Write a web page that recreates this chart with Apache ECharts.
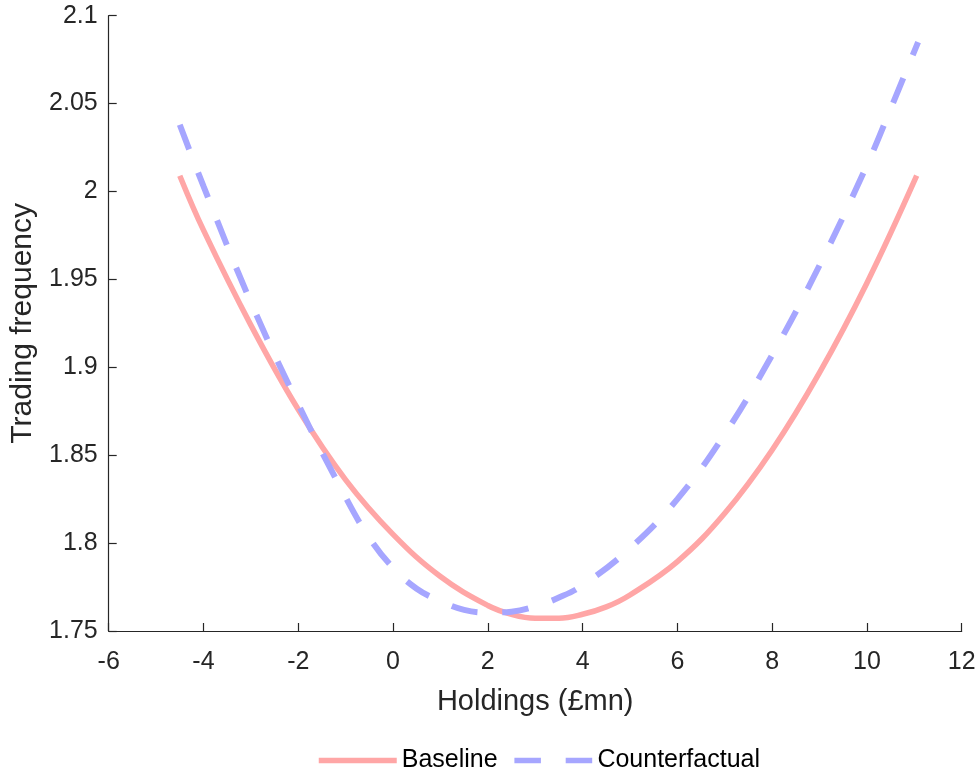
<!DOCTYPE html>
<html>
<head>
<meta charset="utf-8">
<script src="https://cdn.jsdelivr.net/npm/echarts@6/dist/echarts.min.js"></script>
<style>html,body{margin:0;padding:0;background:#fff;}#c{width:979px;height:771px;}</style>
</head>
<body>
<div id="c"></div>
<script>
// Holdings (£mn) -> Trading frequency
const baselineX = [-4.5, -4, -3, -2, -1, 0, 1, 2, 2.5, 3, 3.5, 4, 4.5, 5, 6, 7, 8, 9, 10, 11.05];
const baselineY = [2.009, 1.978, 1.924, 1.876, 1.836, 1.805, 1.781, 1.7645, 1.7595, 1.7573, 1.7573, 1.7595, 1.7637, 1.7705, 1.7895, 1.817, 1.853, 1.897, 1.948, 2.009];
const counterX = [-4.5, -4, -3, -2, -1, -0.5, 0, 0.5, 1, 1.5, 2, 2.5, 3, 3.5, 4, 5, 6, 7, 8, 9, 10, 10.5, 11.08];
const counterY = [2.038, 2.003, 1.937, 1.879, 1.826, 1.803, 1.786, 1.774, 1.767, 1.762, 1.7605, 1.761, 1.764, 1.769, 1.776, 1.797, 1.825, 1.862, 1.907, 1.958, 2.015, 2.047, 2.085];
const seriesNames = ['Baseline', 'Counterfactual'];
const xTitle = 'Holdings (£mn)';
const yTitle = 'Trading frequency';

const pair = (xs, ys) => xs.map((x, i) => [x, ys[i]]);
const font = 'Liberation Sans, Arial, Helvetica, sans-serif';
const axisColor = '#262626';

const chart = echarts.init(document.getElementById('c'));
chart.setOption({
  animation: false,
  backgroundColor: '#ffffff',
  grid: { left: 108.7, right: 17.3, top: 15.7, bottom: 140, containLabel: false },
  xAxis: {
    type: 'value', min: -6, max: 12, interval: 2,
    name: xTitle, nameLocation: 'middle', nameGap: 56,
    nameTextStyle: { fontFamily: font, fontSize: 29, color: axisColor },
    axisLine: { show: true, onZero: false, lineStyle: { color: axisColor, width: 1.2 } },
    axisTick: { show: true, inside: true, length: 8, lineStyle: { color: axisColor, width: 1.2 } },
    axisLabel: { fontFamily: font, fontSize: 25, color: axisColor, margin: 19 },
    splitLine: { show: false }
  },
  yAxis: {
    type: 'value', min: 1.75, max: 2.1, interval: 0.05,
    name: yTitle, nameLocation: 'middle', nameGap: 67, nameRotate: 90,
    nameTextStyle: { fontFamily: font, fontSize: 30, color: axisColor },
    axisLine: { show: true, onZero: false, lineStyle: { color: axisColor, width: 1.2 } },
    axisTick: { show: true, inside: true, length: 8, lineStyle: { color: axisColor, width: 1.2 } },
    axisLabel: { fontFamily: font, fontSize: 25, color: axisColor, margin: 11 },
    splitLine: { show: false }
  },
  legend: {
    left: 311, top: 743,
    itemWidth: 78, itemHeight: 26, itemGap: 14,
    itemStyle: { opacity: 0 },
    lineStyle: { width: 5.5 },
    textStyle: { fontFamily: font, fontSize: 25, color: '#000000' },
    data: seriesNames
  },
  series: [
    {
      name: seriesNames[0], type: 'line', data: pair(baselineX, baselineY),
      smooth: 0.4, showSymbol: false, symbol: 'none',
      lineStyle: { color: '#FFA6A6', width: 5.5 },
      itemStyle: { color: '#FFA6A6' }
    },
    {
      name: seriesNames[1], type: 'line', data: pair(counterX, counterY),
      smooth: 0.4, showSymbol: false, symbol: 'none',
      lineStyle: { color: '#A6A6FF', width: 6, type: [26.5, 24.8] },
      itemStyle: { color: '#A6A6FF' }
    }
  ]
});
</script>
</body>
</html>
